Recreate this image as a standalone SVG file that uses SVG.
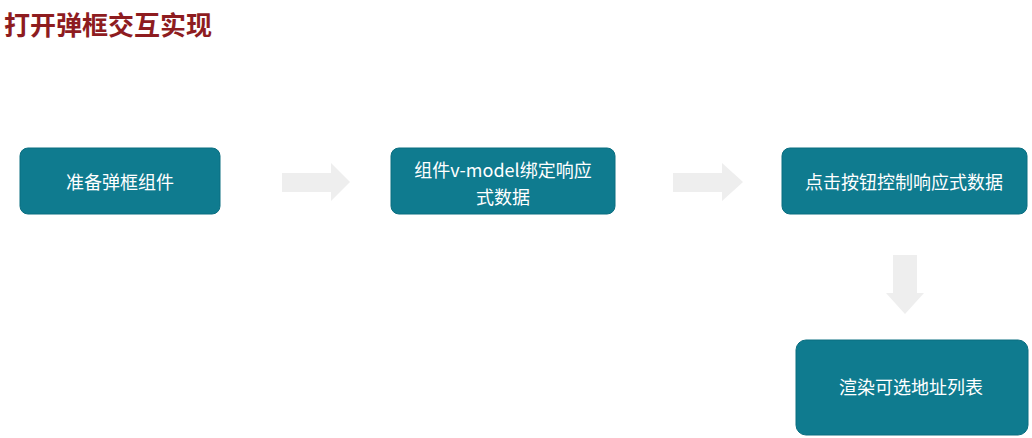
<svg xmlns="http://www.w3.org/2000/svg" width="1032" height="438" viewBox="0 0 1032 438">
<style>
.box{fill:#0f7b8f;stroke:#0a6e80;stroke-width:1}
.lbl{font-family:"Noto Sans CJK SC","Noto Sans",sans-serif;font-size:18px;fill:#ffffff;text-anchor:middle;dominant-baseline:central}
.arr{fill:#eeeeee}
.title{font-family:"Noto Sans CJK SC",sans-serif;font-size:26px;font-weight:bold;fill:#8e1c1f}
</style>
<rect width="1032" height="438" fill="#ffffff"/>
<text class="title" x="4" y="35">打开弹框交互实现</text>
<g id="connectors">
<polygon class="arr" points="282,173 331,173 331,163 350,182 331,201 331,192 282,192"/>
<polygon class="arr" points="673,173 722,173 722,163 743,182 722,201 722,192 673,192"/>
<polygon class="arr" points="893,255 917,255 917,293 924,293 905,314 886,293 893,293"/>
</g>
<g id="node1">
<rect class="box" x="20" y="148" width="200" height="66" rx="8"/>
<text class="lbl" x="120" y="181">准备弹框组件</text>
</g>
<g id="node2">
<rect class="box" x="391" y="148" width="224" height="66" rx="8"/>
<text class="lbl" x="503" y="169">组件v-model绑定响应</text>
<text class="lbl" x="503" y="196">式数据</text>
</g>
<g id="node3">
<rect class="box" x="782" y="148" width="245" height="66" rx="8"/>
<text class="lbl" x="904" y="181">点击按钮控制响应式数据</text>
</g>
<g id="node4">
<rect class="box" x="796" y="340" width="232" height="95" rx="10"/>
<text class="lbl" x="911" y="386">渲染可选地址列表</text>
</g>
</svg>
